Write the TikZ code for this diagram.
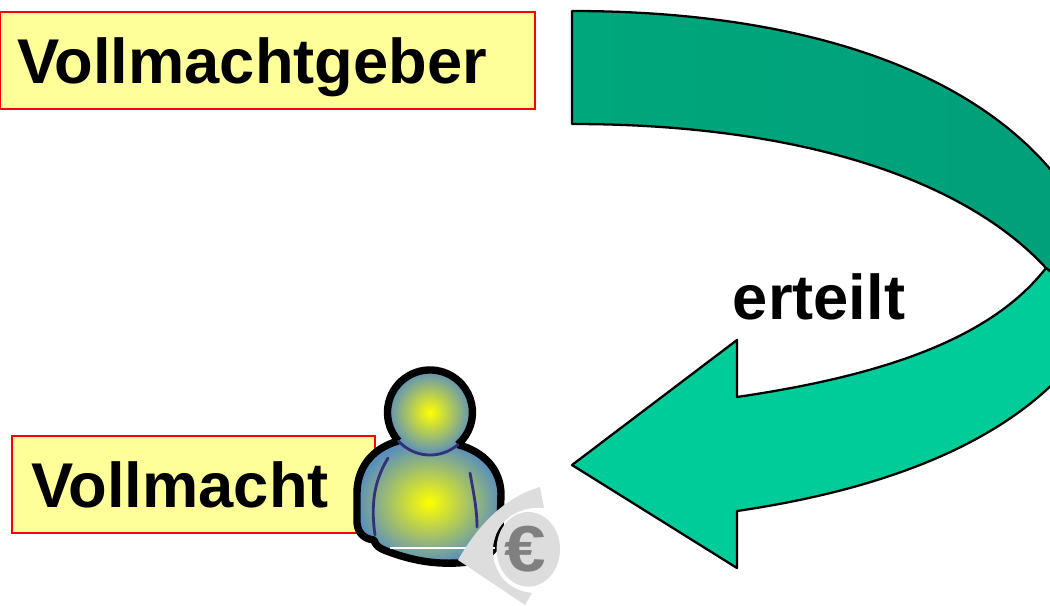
\documentclass[tikz,border=0pt]{standalone}
\usepackage{fontspec}
\setmainfont{Liberation Sans}
\usetikzlibrary{positioning}

\definecolor{boxyellow}{HTML}{FFFF99}
\definecolor{arrowlight}{HTML}{00CC99}
\definecolor{arrowdark}{HTML}{00A67C}
\definecolor{arrowdarker}{HTML}{00A07A}
\definecolor{personedge}{HTML}{5A8FBC}
\definecolor{personline}{HTML}{35307A}
\definecolor{eurolight}{HTML}{DDDDDD}
\definecolor{eurodark}{HTML}{808080}

\pgfdeclareradialshading{personglow}{\pgfpoint{0bp}{0bp}}{
    color(0bp)=(yellow);
    color(25bp)=(personedge);
    color(50bp)=(personedge)
}

\begin{document}
\begin{tikzpicture}[
        x=0.02cm,
        y=-0.02cm,
        labelbox/.style={
            draw=red,
            fill=boxyellow,
            line width=1.3pt,
            anchor=north west,
            align=left,
            text height=30pt,
            text depth=3.5pt,
            minimum height=1.94cm,
            font=\fontsize{36}{38}\bfseries,
        },
        band/.style={
            draw=black,
            line width=1.3pt,
            line join=round,
        },
        personout/.style={
            draw=black,
            line width=4.2pt,
            line join=round,
        },
        personin/.style={
            draw=personline,
            line width=1.6pt,
            line cap=round,
        },
    ]
    \useasboundingbox (0, 0) rectangle (1050, 605);
    \clip (0, 0) rectangle (1050, 605);

    % Define the arrow.
    \coordinate (a1) at (572, 11);
    \coordinate (a2) at (572, 124);
    \coordinate (a3) at (1046, 268);
    \coordinate (a4) at (1070, 195);
    \coordinate (b1) at (737, 397);
    \coordinate (b2) at (737, 340);
    \coordinate (b3) at (572, 465);
    \coordinate (b4) at (737, 568);
    \coordinate (b5) at (737, 511);
    \coordinate (b6) at (1075, 360);
    \coordinate (b7) at (1075, 290);

    % Draw the arrow.
    \shadedraw[band, left color=arrowdark, right color=arrowdarker]
        (a1) .. controls (800, 11) and (985, 70) .. (a4)
        -- (1070, 290) -- (a3)
        .. controls (960, 175) and (790, 124) .. (a2) -- cycle;
    \draw[band, fill=arrowlight]
        (a3) .. controls (990, 340) and (880, 376) .. (b1)
        -- (b2) -- (b3) -- (b4) -- (b5)
        .. controls (880, 490) and (1005, 445) .. (b6)
        -- (b7) -- cycle;

    % Draw the labels.
    \node[labelbox, text width=10.02cm, inner xsep=0.34cm] (giver) at (-1, 11) {Vollmachtgeber};
    \node[labelbox, text width=6.5cm, inner xsep=0.38cm] (power) at (11, 435) {Vollmacht};
    \node[font=\fontsize{36}{38}\bfseries] (grant) at (819, 297) {erteilt};

    % Define the person.
    \coordinate (head) at (430, 412.5);
    \coordinate (neckl) at (398.4, 440.9);
    \coordinate (neckr) at (457.9, 444.6);

    % Draw the person.
    \shade[shading=personglow]
        (neckl) .. controls (370, 449) and (357, 470) .. (357, 493)
        -- (357, 523)
        .. controls (358, 534) and (365, 539) .. (374, 540)
        .. controls (376, 548) and (384, 550) .. (392, 553)
        .. controls (415, 561) and (435, 564) .. (457, 563)
        .. controls (480, 562) and (499, 555) .. (500, 530)
        -- (501, 493)
        .. controls (500, 470) and (485, 452) .. (neckr) -- cycle;
    \draw[personout]
        (neckl) .. controls (370, 449) and (357, 470) .. (357, 493)
        -- (357, 523)
        .. controls (358, 534) and (365, 539) .. (374, 540)
        .. controls (376, 548) and (384, 550) .. (392, 553)
        .. controls (415, 561) and (435, 564) .. (457, 563)
        .. controls (480, 562) and (499, 555) .. (500, 530)
        -- (501, 493)
        .. controls (500, 470) and (485, 452) .. (neckr);
    \shade[shading=personglow] (head) circle (42.5);
    \draw[personout] (neckl) arc[start angle=138, end angle=409, radius=42.5];
    \draw[personin] (neckr) arc[start angle=49, end angle=138, radius=42.5];
    \draw[personin] (388, 458) .. controls (376, 478) and (370, 500) .. (375, 535);
    \draw[personin] (470, 473) .. controls (474, 495) and (477, 510) .. (477, 527);
    \draw[white, line width=0.6pt] (390, 548) -- (495, 548);

    % Draw the euro mark.
    \fill[eurolight]
        (540, 487) .. controls (505, 497) and (478, 525) .. (458, 560)
        -- (525, 605) -- (532, 593)
        .. controls (505, 590) and (493, 570) .. (493, 550)
        .. controls (493, 525) and (515, 505) .. (544, 508) -- cycle;
    \fill[eurolight] (528.3, 549.3) ellipse (31.7 and 37.3);
    \node[text=eurodark, font=\fontsize{37}{38}\bfseries, inner sep=0pt] (euro) at (525, 549) {\scalebox{1.15}[1]{€}};
\end{tikzpicture}
\end{document}
